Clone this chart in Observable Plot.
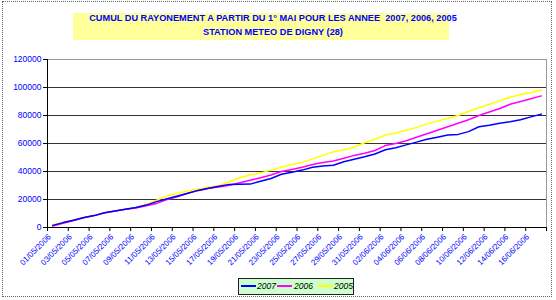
<!DOCTYPE html>
<html><head><meta charset="utf-8">
<script src="https://cdn.jsdelivr.net/npm/d3@7"></script>
<script src="https://cdn.jsdelivr.net/npm/@observablehq/plot@0.6"></script>
<style>
body{margin:0;background:#fff;}
#wrap{position:relative;width:556px;height:300px;overflow:hidden;font-family:"Liberation Sans",Arial,sans-serif;}
#wrap svg{position:absolute;left:0;top:0;}
#border{position:absolute;left:2px;top:1px;width:548px;height:294px;border:1px dotted #666;pointer-events:none;}
#tbox{position:absolute;left:73px;top:13px;width:376px;height:27px;background:#ffff99;}
.tl{position:absolute;left:60px;width:426px;text-align:center;color:#0000ff;font-weight:bold;font-size:9.2px;line-height:14px;white-space:pre;}
#legend{position:absolute;left:238px;top:278px;width:114px;height:15px;background:#ccffcc;border:1px solid #222;}
.ls{position:absolute;height:2px;top:285px;width:15px;}
.lt{position:absolute;top:279px;font-size:8.5px;line-height:14px;color:#000;font-style:italic;}
g[aria-label="y-axis tick label"], g[aria-label="y-axis tick label"] text{fill:#0000ff;}
</style>
</head><body>
<div id="wrap">
<div id="tbox"></div>
<div class="tl" style="top:11px">CUMUL DU RAYONEMENT A PARTIR DU 1° MAI POUR LES ANNEE  2007, 2006, 2005</div>
<div class="tl" style="top:25px">STATION METEO DE DIGNY (28)</div>
<div id="legend"></div>
<div class="ls" style="left:241px;background:#0000ff;"></div>
<div class="lt" style="left:257px">2007</div>
<div class="ls" style="left:277px;background:#ff00ff;"></div>
<div class="lt" style="left:294px">2006</div>
<div class="ls" style="left:318px;background:#ffff00;"></div>
<div class="lt" style="left:334px">2005</div>
<div id="border"></div>
</div>
<script>
const categories = [
"01/05/2006","02/05/2006","03/05/2006","04/05/2006","05/05/2006","06/05/2006","07/05/2006","08/05/2006",
"09/05/2006","10/05/2006","11/05/2006","12/05/2006","13/05/2006","14/05/2006","15/05/2006","16/05/2006",
"17/05/2006","18/05/2006","19/05/2006","20/05/2006","21/05/2006","22/05/2006","23/05/2006","24/05/2006",
"25/05/2006","26/05/2006","27/05/2006","28/05/2006","29/05/2006","30/05/2006","31/05/2006","01/06/2006",
"02/06/2006","03/06/2006","04/06/2006","05/06/2006","06/06/2006","07/06/2006","08/06/2006","09/06/2006",
"10/06/2006","11/06/2006","12/06/2006","13/06/2006","14/06/2006","15/06/2006","16/06/2006","17/06/2006"];

const v2007 = [1500,3500,5200,7200,8500,10500,11800,13000,14300,16000,18500,20500,22500,24500,26500,28000,
29500,30800,30900,31000,33000,35000,38000,39500,41000,43000,44000,44500,47000,48800,50500,52500,
55500,57000,59000,61000,63000,64500,66000,66500,68500,72000,73000,74500,75500,77000,79000,81000];

const v2006 = [1000,3000,5000,7000,8500,10500,11800,13000,14000,15500,17200,20000,22000,24500,26500,28000,
29000,30200,32000,33800,35500,37500,40000,41500,43000,45000,46500,47500,49500,51500,53000,55000,
58500,60000,62000,64500,67000,69500,72000,74500,77000,80000,82500,85000,88000,90000,92000,94000];

const v2005 = [2000,3500,5300,7000,8600,10500,11800,13000,14300,16500,19500,22500,24500,26000,27500,28800,
30000,32500,35500,37500,39000,41000,43000,45000,46500,49000,51500,54000,55500,57500,60500,63000,
66000,67500,69500,71500,74000,76000,78000,80000,83000,85500,88000,90500,93000,95000,96500,98000];

const yTicks = [0,20000,40000,60000,80000,100000,120000];
const catBounds = d3.range(-0.5, categories.length, 2);

const chart = Plot.plot({
  width: 556, height: 300,
  marginLeft: 47, marginRight: 10, marginTop: 59, marginBottom: 73,
  style: {background: "transparent", fontFamily: "Liberation Sans, Arial, sans-serif", fontSize: "8.5px"},
  x: {domain: [-0.5, categories.length - 0.5], axis: null},
  y: {domain: [0, 120000], axis: null},
  marks: [
    Plot.ruleY(yTicks.slice(1), {stroke: "#333", strokeWidth: 1}),
    Plot.frame({stroke: "#999"}),
    Plot.axisY(yTicks, {tickSize: 4, tickPadding: 2, tickFormat: d3.format("d"), fill: "#0000ff", stroke: "#000", fontSize: 8.5}),
    Plot.ruleX([-0.5], {stroke: "#000"}),
    Plot.ruleY([0], {stroke: "#000"}),
    Plot.ruleX(catBounds, {y1: 0, y2: -2900, stroke: "#000"}),
    Plot.text(categories, {filter: (d, i) => i % 2 === 0, x: (d, i) => i, y: 0, text: d => d,
      rotate: -45, textAnchor: "end", dx: -3, dy: 8, fill: "#0000ff", fontSize: 8}),
    Plot.line(v2005, {x: (d, i) => i, y: d => d, stroke: "#ffff00", strokeWidth: 1.5}),
    Plot.line(v2006, {x: (d, i) => i, y: d => d, stroke: "#ff00ff", strokeWidth: 1.5}),
    Plot.line(v2007, {x: (d, i) => i, y: d => d, stroke: "#0000ff", strokeWidth: 1.5})
  ]
});
document.getElementById("wrap").prepend(chart);
</script>
</body></html>
